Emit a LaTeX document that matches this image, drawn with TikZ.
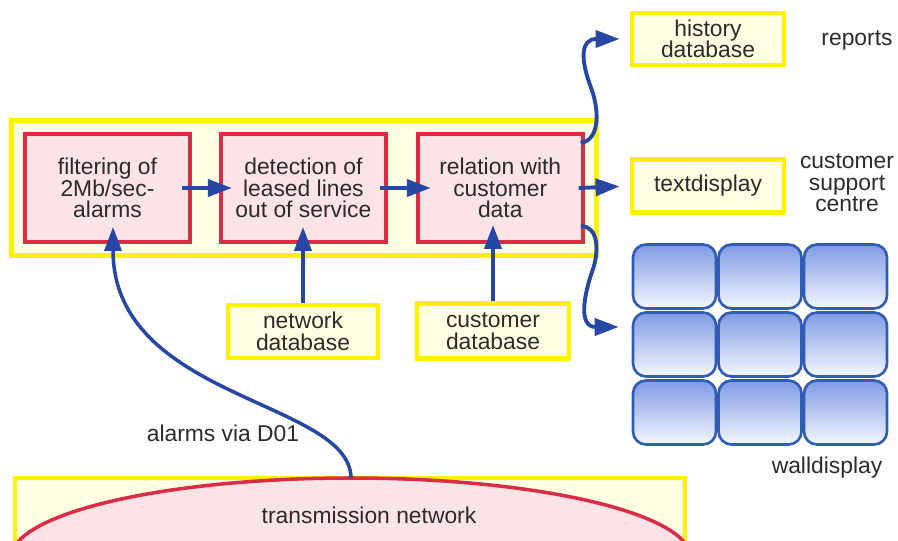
\documentclass[tikz,border=0pt]{standalone}
\usepackage{fontspec}
\setmainfont{Liberation Sans}
\usetikzlibrary{positioning,arrows.meta,fit,backgrounds,calc}
\definecolor{cyellow}{HTML}{FFF200}
\definecolor{cpale}{HTML}{FFFFE4}
\definecolor{cred}{HTML}{DC2B45}
\definecolor{cpink}{HTML}{FCE3E6}
\definecolor{cblue}{HTML}{2648A4}
\definecolor{ctext}{HTML}{2B2B2B}
\definecolor{cwall}{HTML}{2F5DB5}
\definecolor{cwalltop}{HTML}{7F9BE2}
\definecolor{cwallbot}{HTML}{F5F7FF}
\tikzset{
  txt/.style   ={text=ctext,font=\fontsize{13}{12.3}\selectfont,align=center},
  proc/.style  ={txt,draw=cred,line width=2.2pt,fill=cpink,
                 minimum width=3.3cm,minimum height=2.16cm,inner sep=2pt},
  dbase/.style ={txt,draw=cyellow,line width=2.8pt,fill=cpale,
                 minimum width=3.04cm,minimum height=1.06cm,inner sep=1pt},
  panel/.style ={draw=cyellow,line width=3pt,fill=cpale,inner sep=0.23cm},
  wcell/.style ={draw=cwall,line width=1.5pt,rounded corners=0.26cm,
                 top color=cwalltop,bottom color=cwallbot,
                 minimum width=1.66cm,minimum height=1.28cm},
  arr/.style   ={-{Triangle[length=0.48cm,width=0.34cm]},line width=2.2pt,cblue},
}

\begin{document}
\begin{tikzpicture}[x=0.2mm,y=-0.2mm]
 \useasboundingbox (0,0) rectangle (898,541);
 \node[proc] (filt) at (107.5,188) {filtering of\\2Mb/sec-\\alarms};
 \node[proc,right=0.54cm of filt] (detect) {detection of\\leased lines\\out of service};
 \node[proc,right=0.56cm of detect] (rel) {relation with\\customer\\data};
 \begin{scope}[on background layer]
  \node[panel,fit=(filt)(rel)] (procbox) {};
 \end{scope}
 \node[dbase,minimum height=1.04cm] (histdb) at (708,39) {history\\database};
 \node[dbase] (textdisp) at (708,186) {textdisplay};
 \node[dbase,minimum width=3.0cm] (netdb) at (303,331.5) {network\\database};
 \node[dbase,minimum height=1.1cm] (custdb) at (493,331) {customer\\database};
 \node[txt] (reports) at (857,40) {reports};
 \node[txt] (csc) at (847,183) {customer\\support\\centre};
 \node[txt] (walltxt) at (827,468) {walldisplay};
 \node[txt] (alarms) at (223,433) {alarms via D01};
 \foreach \r in {0,1,2}
  \foreach \c in {0,1,2}
   \node[wcell] (wd-\r-\c) at ({674.5+85.5*\c},{276.5+68*\r}) {};
 \begin{scope}
  \clip (0,0) rectangle (898,541);
  \draw[cyellow,line width=2.8pt,fill=cpale] (15,478) rectangle (685,580);
  \draw[cred,line width=2pt,fill=cpink] (351,558) ellipse [x radius=6.8cm,y radius=1.6cm];
 \end{scope}
 \coordinate (arctop) at (351,478);
 \node[txt] (trans) at (369,515) {transmission network};
 \draw[arr] ([xshift=-0.2cm]filt.east) -- ([xshift=0.26cm]detect.west);
 \draw[arr] ([xshift=-0.16cm]detect.east) -- ([xshift=0.3cm]rel.west);
 \draw[arr,shorten >=0.2cm] ([xshift=-0.12cm]rel.east) -- (textdisp.west);
 \draw[arr] (netdb) -- ($(netdb.north |- detect.south)+(0,0.34cm)$);
 \draw[arr] (custdb) -- ($(custdb.north |- rel.south)+(0,0.38cm)$);
 \draw[arr,line width=2pt] (arctop) .. controls (350,400) and (113,400) .. ([xshift=0.11cm,yshift=0.34cm]filt.south);
 \draw[arr,shorten >=0.2cm] ([xshift=-0.08cm,yshift=0.9cm]rel.east)
   .. controls (600,140) and (600,110) .. (590,85)
   .. controls (581,60) and (580,39) .. (histdb.west);
 \draw[arr] ([xshift=-0.08cm,yshift=-0.76cm]rel.east)
   .. controls (598,226) and (600,250) .. (592,272)
   .. controls (584,295) and (578,327) .. ([xshift=-0.26cm,yshift=0.35cm]wd-1-0.west);
\end{tikzpicture}
\end{document}
